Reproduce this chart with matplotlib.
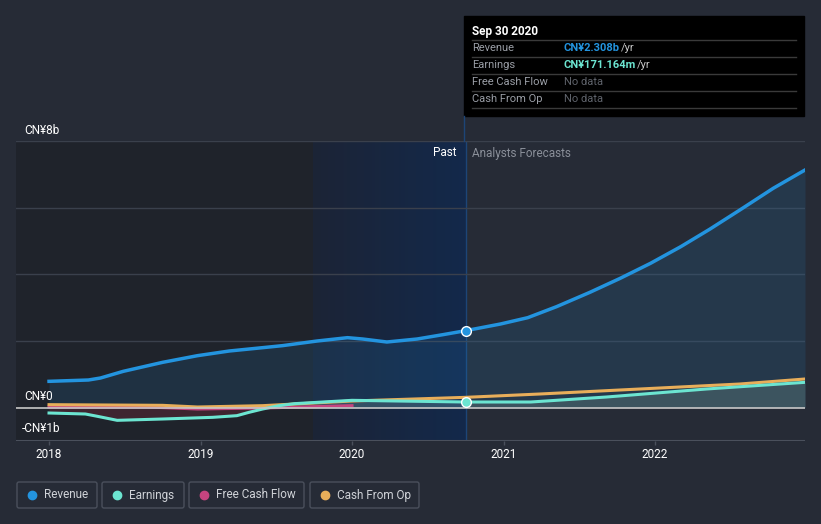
import numpy as np
import matplotlib
matplotlib.use("Agg")
from matplotlib import pyplot as plt
from matplotlib.patches import FancyBboxPatch, Rectangle
from matplotlib.colors import LinearSegmentedColormap

plt.rcParams['font.family'] = ['Roboto', 'DejaVu Sans']

# values in CN¥ billions, x in decimal years
rev_x = [2018.0, 2018.26, 2018.34, 2018.49, 2018.75, 2018.98, 2019.19, 2019.41,
         2019.54, 2019.77, 2019.97, 2020.07, 2020.23, 2020.43, 2020.60, 2020.75,
         2020.98, 2021.16, 2021.35, 2021.57, 2021.77, 2021.97, 2022.17, 2022.36,
         2022.56, 2022.78, 2022.99]
rev_y = [0.79, 0.83, 0.89, 1.09, 1.36, 1.56, 1.70, 1.80,
         1.86, 2.00, 2.10, 2.06, 1.97, 2.06, 2.19, 2.31,
         2.51, 2.70, 3.03, 3.46, 3.88, 4.33, 4.83, 5.35,
         5.93, 6.58, 7.13]

earn_x = [2018.0, 2018.24, 2018.32, 2018.45, 2018.75, 2019.08, 2019.24, 2019.32,
          2019.41, 2019.52, 2019.62, 2020.0, 2020.75, 2021.18, 2021.68, 2022.34, 2022.99]
earn_y = [-0.16, -0.19, -0.26, -0.38, -0.34, -0.29, -0.24, -0.14,
          -0.04, 0.06, 0.12, 0.22, 0.17, 0.17, 0.32, 0.56, 0.76]

cfo_x = [2018.0, 2018.75, 2018.98, 2019.41, 2020.0, 2020.75, 2021.24, 2021.9,
         2022.56, 2022.99]
cfo_y = [0.09, 0.07, 0.02, 0.06, 0.20, 0.31, 0.41, 0.56, 0.71, 0.86]

fcf_x = [2018.0, 2018.65, 2018.98, 2019.41, 2020.0]
fcf_y = [0.02, 0.02, -0.04, -0.01, 0.06]

now_x = 2020.75
now_rev = 2.308
now_earn = 0.171

bg = '#262b36'
c_rev = '#2394df'
c_earn = '#6ce5d1'
c_fcf = '#c5447f'
c_cfo = '#e8ae5a'

fig = plt.figure(figsize=(8.21, 5.24), dpi=100, facecolor=bg)
ax = fig.add_axes([16/821, 1 - 441/524, (805-16)/821, 300/524])
ax.set_facecolor(bg)
x0, x1 = 2017.782, 2022.99
ax.set_xlim(x0, x1)
ax.set_ylim(-1, 8)

# past shading
ax.axvspan(x0, 2019.74, color='#1f232b', zorder=0, lw=0)
grad = np.linspace(0, 1, 256).reshape(1, -1)
cmap = LinearSegmentedColormap.from_list('g', ['#1c2436', '#13294b'])
ax.imshow(grad, extent=[2019.74, now_x, -1, 8], aspect='auto', cmap=cmap, zorder=0.5)
ax.axvline(now_x, color='#1d4577', lw=1, zorder=1)

for v in [2, 4, 6, 8]:
    ax.axhline(v, color='#3a404c', lw=1, zorder=1)
ax.axhline(0, color='#c8c8c8', lw=1.2, zorder=4)
ax.axhline(-1, color='#4a505c', lw=1.5, zorder=1)

earn_arr = np.array(earn_y)
ax.fill_between(rev_x, rev_y, 0, color=c_rev, alpha=0.13, lw=0, zorder=2)
ax.fill_between(earn_x, earn_arr, 0, where=earn_arr >= 0, interpolate=True,
                color='#8fb8a8', alpha=0.22, lw=0, zorder=2)
ax.fill_between(earn_x, earn_arr, 0, where=earn_arr <= 0, interpolate=True,
                color='#7a2a3a', alpha=0.35, lw=0, zorder=2)

ax.plot(fcf_x, fcf_y, color=c_fcf, lw=2.2, zorder=3)
ax.plot(cfo_x, cfo_y, color=c_cfo, lw=2.2, zorder=3)
ax.plot(earn_x, earn_y, color=c_earn, lw=2.2, zorder=3)
ax.plot(rev_x, rev_y, color=c_rev, lw=2.5, zorder=3)

ax.plot([now_x], [now_rev], 'o', ms=7, color=c_rev, mec='white', mew=1, zorder=5)
ax.plot([now_x], [now_earn], 'o', ms=7, color=c_earn, mec='white', mew=1, zorder=5)

for s in ax.spines.values():
    s.set_visible(False)
ax.set_yticks([])
ax.set_xticks([2018, 2019, 2020, 2021, 2022])
ax.set_xticklabels(['2018', '2019', '2020', '2021', '2022'])
ax.tick_params(axis='x', colors='#4a505c', length=3, width=1, labelcolor='white',
               labelsize=8.5, pad=2)

# overlay in figure pixel coords for labels, tooltip and legend
ov = fig.add_axes([0, 0, 1, 1], facecolor='none')
ov.set_xlim(0, 821)
ov.set_ylim(524, 0)
ov.axis('off')

ov.text(24, 130, 'CN¥8b', color='white', fontsize=8.5, va='center')
ov.text(24, 396, 'CN¥0', color='white', fontsize=8.5, va='center')
ov.text(22, 429, '-CN¥1b', color='white', fontsize=8.5, va='center')
ov.text(456, 153, 'Past', color='white', fontsize=8.5, va='center', ha='right')
ov.text(472, 153, 'Analysts Forecasts', color='#8a8f99', fontsize=8.5, va='center')

# tooltip
ov.add_patch(Rectangle((464, 16), 340, 100, color='black', zorder=5))
ov.plot([464, 464], [116, 141], color='#1d4577', lw=1, zorder=6)
ov.text(472, 31, 'Sep 30 2020', color='white', fontsize=8.5, fontweight='bold', va='center', zorder=6)
for yy in [40, 57, 74, 91, 108]:
    ov.plot([472, 796], [yy, yy], color='#3a3a3a', lw=1, zorder=6)
rows = [('Revenue', 'CN¥2.308b', c_rev, ' /yr'),
        ('Earnings', 'CN¥171.164m', c_earn, ' /yr'),
        ('Free Cash Flow', 'No data', '#5f636b', ''),
        ('Cash From Op', 'No data', '#5f636b', '')]
for i, (lab, val, col, unit) in enumerate(rows):
    yy = 48 + 17 * i
    ov.text(472, yy, lab, color='#9a9ea6', fontsize=8, va='center', zorder=6)
    t = ov.text(564, yy, val, color=col, fontsize=8, va='center', zorder=6,
                fontweight='bold' if unit else 'normal')
    if unit:
        fig.canvas.draw()
        bb = t.get_window_extent()
        ov.text(564 + bb.width + 1, yy, unit.strip(), color='#c8c8c8', fontsize=8,
                va='center', zorder=6)

# legend
leg = [('Revenue', c_rev, 17, 97), ('Earnings', c_earn, 102, 184),
       ('Free Cash Flow', c_fcf, 189, 304), ('Cash From Op', c_cfo, 310, 419)]
for lab, col, xa, xb in leg:
    ov.add_patch(FancyBboxPatch((xa, 482), xb - xa, 26, boxstyle='round,pad=0,rounding_size=2',
                                fc='none', ec='#4a505c', lw=1))
    ov.plot([xa + 15], [495], 'o', ms=6, color=col)
    ov.text(xa + 27, 495, lab, color='#d0d3d8', fontsize=8.5, va='center')

fig.savefig('out.png', dpi=100, facecolor=bg)
